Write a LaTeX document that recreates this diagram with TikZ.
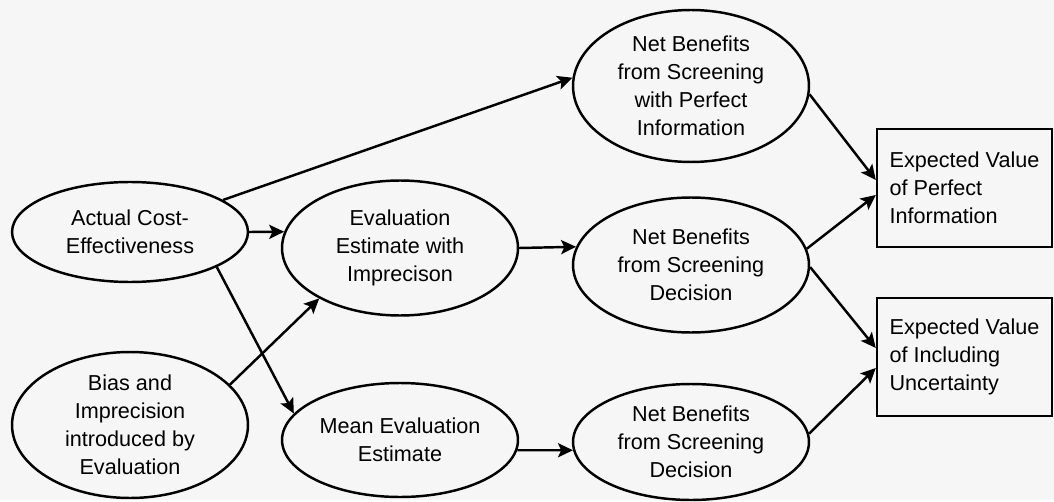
\documentclass[tikz,border=0pt]{standalone}
\usepackage{fontspec}
\setmainfont{Liberation Sans}
\usetikzlibrary{arrows.meta,shapes.geometric}
\definecolor{paper}{HTML}{F6F6F6}

\begin{document}
\begin{tikzpicture}[x=0.02cm,y=-0.02cm,
  txt/.style={font=\fontsize{12.3}{16}\selectfont},
  bubble/.style={ellipse, draw, line width=1.4pt, inner sep=0pt,
    minimum width=4.72cm, align=center, txt},
  valuebox/.style={rectangle, draw, line width=1.4pt, inner sep=0pt,
    minimum width=3.5cm, minimum height=2.36cm, align=left, txt},
  link/.style={line width=1.4pt,
    -{Stealth[length=8.5pt,width=8pt,inset=1.8pt]}}]

% page
\fill[paper] (0,0) rectangle (1054,500);

% chance nodes
\node[bubble, minimum height=2.00cm] (ace)  at (130,232) {Actual Cost-\\Effectiveness};
\node[bubble, minimum height=2.92cm] (bias) at (130,425) {Bias and\\Imprecision\\introduced by\\Evaluation};
\node[bubble, minimum height=2.70cm] (ee)   at (400,248) {Evaluation\\Estimate with\\Imprecison};
\node[bubble, minimum height=2.28cm] (mee)  at (400,440) {Mean Evaluation\\Estimate};
\node[bubble, minimum height=3.04cm] (nbt)  at (691,86)  {Net Benefits\\from Screening\\with Perfect\\Information};
\node[bubble, minimum height=2.70cm] (nbm)  at (691,265) {Net Benefits\\from Screening\\Decision};
\node[bubble, minimum height=2.32cm] (nbb)  at (691,442) {Net Benefits\\from Screening\\Decision};

% value nodes
\node[valuebox] (evpi) at (964.5,188) {Expected Value\\of Perfect\\Information};
\node[valuebox] (eviu) at (964.5,357) {Expected Value\\of Including\\Uncertainty};

% influences
\draw[link] (ace.19)    -- (nbt.176.6);
\draw[link] (ace.east)  -- (ee.172);
\draw[link] (ace.-22.7) -- (mee.166.8);
\draw[link] (bias.22.4) -- (ee.212.2);
\draw[link] (ee.east)   -- (nbm.171.8);
\draw[link] (mee.-5.8)  -- (nbb.184.8);
\draw[link] (nbt.-4.4)  -- ([yshift=0.16cm]evpi.west);
\draw[link] (nbm.8.3)   -- ([yshift=-0.14cm]evpi.west);
\draw[link] (nbm.-1.5)  -- ([yshift=0.18cm]eviu.west);
\draw[link] (nbb.4.4)   -- ([yshift=-0.22cm]eviu.west);
\end{tikzpicture}
\end{document}
